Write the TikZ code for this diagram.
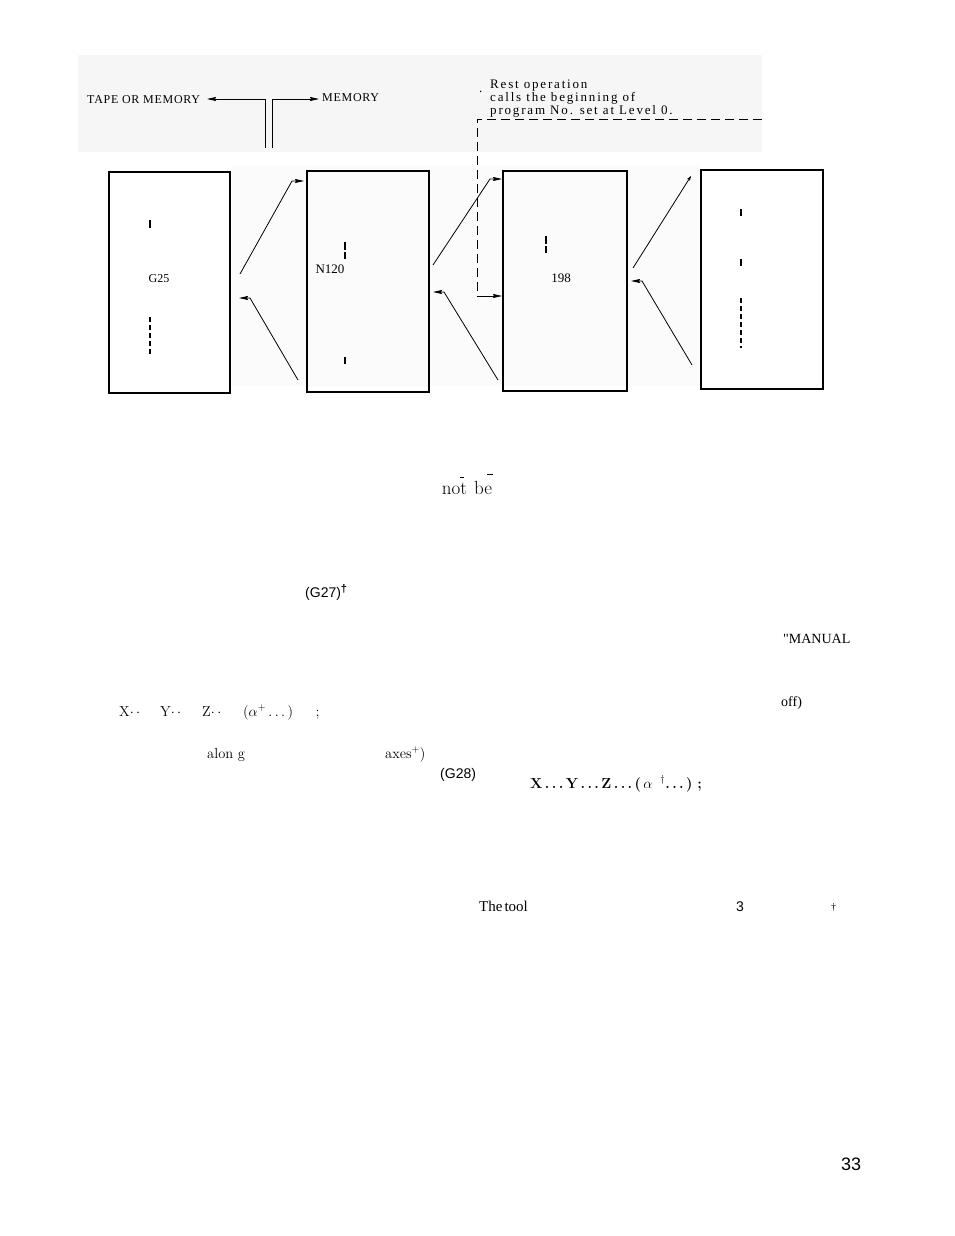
\documentclass[tikz,border=0pt]{standalone}
\usepackage{fontspec}
\usetikzlibrary{arrows.meta}
\newfontfamily\tms{Liberation Serif}
\newfontfamily\tmsA{Liberation Serif}[LetterSpace=6]
\newfontfamily\tmsB{Liberation Serif}[LetterSpace=14]
\newfontfamily\arl{Liberation Sans}
\begin{document}
\begin{tikzpicture}[x=1pt,y=-1pt,
  pbox/.style={draw=black, line width=1.7pt, inner sep=0pt, outer sep=0pt, anchor=north west},
  conn/.style={line width=0.8pt},
  tipd/.style={-{Stealth[length=9pt,width=4pt,inset=1pt]}},
  tick/.style={line width=1.2pt},
  dtick/.style={line width=1.2pt, dash pattern=on 5pt off 3pt},
  rdash/.style={line width=0.9pt, dash pattern=on 9pt off 5pt},
  lbl/.style={inner sep=0pt, anchor=base west},
  san/.style={font=\arl\fontsize{14}{16}\selectfont},
  lm/.style={font=\fontsize{14.5}{16}\selectfont}]
\useasboundingbox (0,0) rectangle (954,1236);
% faint scan patches
\fill[black!3.5] (78,55) rectangle (762,152);
\fill[black!1.5] (232,165) rectangle (700,386);

% top labels
\node[lbl, font=\tmsA\fontsize{12}{13}\selectfont] (tape) at (87,104) {TAPE OR MEMORY};
\node[lbl, font=\tmsA\fontsize{12}{13}\selectfont] (mem) at (322,102) {MEMORY};
\coordinate (lv0) at (265,148); \coordinate (lv1) at (265,99); \coordinate (lt) at (207,99);
\coordinate (rv0) at (272,148); \coordinate (rv1) at (272,99); \coordinate (rt) at (319,99);
\draw[conn, tipd] (lv0) -- (lv1) -- (lt);
\draw[conn, tipd] (rv0) -- (rv1) -- (rt);

% rest operation note
\node[lbl, font=\tmsB\fontsize{13}{14}\selectfont] (bul) at (479,93) {.};
\node[lbl, font=\tmsB\fontsize{13}{14}\selectfont] (r1) at (490,89) {Rest operation};
\node[lbl, font=\tmsB\fontsize{13}{14}\selectfont] (r2) at (490,102) {calls the beginning of};
\node[lbl, font=\tmsB\fontsize{13}{14}\selectfont] (r3) at (490,114.5) {program No. set at Level 0.};

% boxes
\node[pbox, minimum width=121pt, minimum height=221pt] (b1) at (109,172) {};
\node[pbox, minimum width=122pt, minimum height=221pt] (b2) at (307,171) {};
\node[pbox, minimum width=124pt, minimum height=220pt] (b3) at (503,171) {};
\node[pbox, minimum width=122pt, minimum height=219pt] (b4) at (701,170) {};

% dashed return line
\coordinate (dR) at (762,119); \coordinate (dC) at (477,119); \coordinate (dB) at (477,296);
\coordinate (dT) at (502,296);
\draw[rdash] (dR) -- (dC) -- (dB);
\draw[conn, tipd] (dB) -- (dT);

% connectors between boxes
\coordinate (u12a) at (240,274); \coordinate (u12b) at (292,181); \coordinate (u12c) at (304,181);
\coordinate (l12a) at (298,380); \coordinate (l12b) at (250,298); \coordinate (l12c) at (239,298);
\coordinate (u23a) at (433,265); \coordinate (u23b) at (490,179); \coordinate (u23c) at (502,179);
\coordinate (l23a) at (498,380); \coordinate (l23b) at (444,292); \coordinate (l23c) at (433,292);
\coordinate (u34a) at (633,268); \coordinate (u34b) at (691,176);
\coordinate (l34a) at (692,365); \coordinate (l34b) at (642,281); \coordinate (l34c) at (631,281);
\draw[conn, tipd] (u12a) -- (u12b) -- (u12c);
\draw[conn, tipd] (l12a) -- (l12b) -- (l12c);
\draw[conn, tipd] (u23a) -- (u23b) -- (u23c);
\draw[conn, tipd] (l23a) -- (l23b) -- (l23c);
\draw[conn, -{Stealth[length=5pt,width=3.5pt]}] (u34a) -- (u34b);
\draw[conn, tipd] (l34a) -- (l34b) -- (l34c);

% box contents
\draw[tick] (150,220) -- (150,228);
\node[font=\tms\fontsize{12}{14}\selectfont, inner sep=0pt] (g25) at (159,279) {G25};
\draw[dtick] (150,317) -- (150,354);
\draw[tick] (345,242) -- (345,250); \draw[tick] (345,252) -- (345,259);
\node[font=\tms\fontsize{13}{15}\selectfont, inner sep=0pt] (n120) at (330,269) {N120};
\draw[tick] (345,357) -- (345,364);
\draw[tick] (546,236) -- (546,244); \draw[tick] (546,246) -- (546,253);
\node[font=\tms\fontsize{13}{15}\selectfont, inner sep=0pt] (n198) at (561,278) {198};
\draw[tick] (741,209) -- (741,216);
\draw[tick] (741,259) -- (741,266);
\draw[dtick] (741,298) -- (741,348);

% text fragments
\node[inner sep=0pt, anchor=base, font=\fontsize{19}{21}\selectfont] (notbe) at (467,494) {not\hspace{7pt}be};
\draw[line width=0.9pt] (460,477) -- (464,477);
\draw[line width=0.9pt] (487,474) -- (493,474);
\node[lbl, san] (g27) at (305,597) {(G27)\raisebox{5pt}{\fontsize{11}{11}\selectfont\bfseries\textdagger}};
\node[lbl, font=\tms\fontsize{14}{16}\selectfont] (manual) at (783,643) {"MANUAL};
\node[lbl, font=\tms\fontsize{14}{16}\selectfont] (off) at (781,706) {off)};
\node[lbl, lm] (xyz) at (119,716) {\makebox[41pt][l]{X$\cdot\,\cdot$}\makebox[42pt][l]{Y$\cdot\,\cdot$}\makebox[41pt][l]{Z$\cdot\,\cdot$}\makebox[70pt][l]{($\alpha^{+}$\,.\,.\,.\,)}\,;};
\node[lbl, lm] (along) at (207,758) {alon g};
\node[lbl, lm] (axes) at (385,758) {axes$^{+}$)};
\node[lbl, san] (g28) at (440,778) {(G28)};
\node[lbl, font=\bfseries\fontsize{14.5}{16}\selectfont] (xyzb) at (530,788) {X\,.\,.\,.\,Y\,.\,.\,.\,Z\,.\,.\,.\,(\,$\alpha$\, $^{\dagger}$.\,.\,.\,)\,\,;};
\node[lbl, font=\tms\fontsize{15}{17}\selectfont] (tool) at (479,911) {The\hspace{2pt}tool};
\node[lbl, san] (three) at (736,911) {3};
\node[lbl, font=\tms\fontsize{10}{12}\selectfont] (dag) at (831,910) {\textdagger};
\node[lbl, font=\arl\fontsize{18}{20}\selectfont] (pg) at (841,1170) {33};
\end{tikzpicture}
\end{document}
